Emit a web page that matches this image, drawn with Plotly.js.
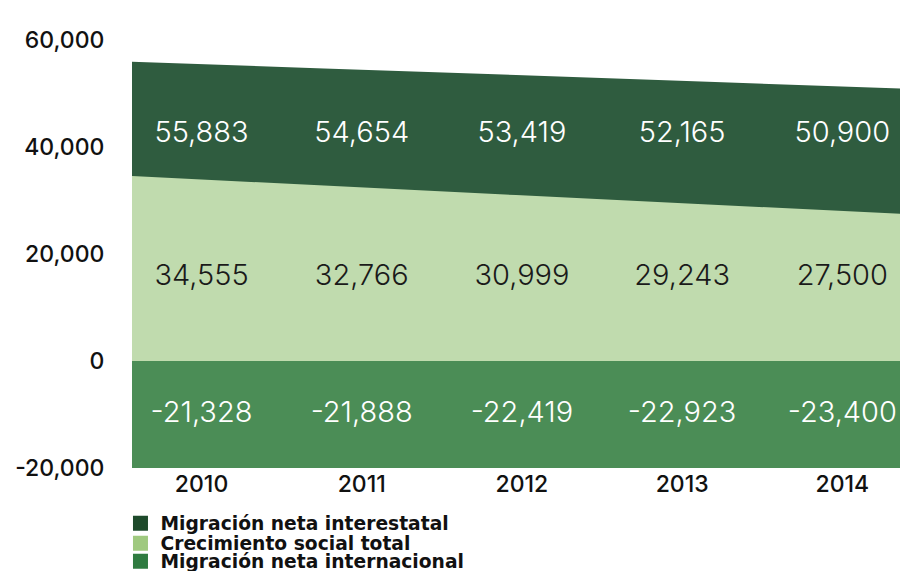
<!DOCTYPE html>
<html><head><meta charset="utf-8">
<script src="https://cdn.plot.ly/plotly-3.0.1.min.js"></script>
<style>html,body{margin:0;padding:0;background:#fff}#chart{width:901px;height:571px}</style>
</head><body><div id="chart"></div>
<script>
// ---- data ----
const years = [2010, 2011, 2012, 2013, 2014];
const interestatal = [55883, 54654, 53419, 52165, 50900];
const crecimientoTotal = [34555, 32766, 30999, 29243, 27500];
const internacional = [-21328, -21888, -22419, -22923, -23400];
const seriesNames = ['Migración neta interestatal', 'Crecimiento social total', 'Migración neta internacional'];
const yTicks = [-20000, 0, 20000, 40000, 60000];

// ---- styling ----
const fmt = v => v.toLocaleString('en-US');
const FONT = 'Inter, "Noto Sans", sans-serif';
const LEGFONT = '"DejaVu Sans", Inter, sans-serif';
const fillDark = '#2f5c3f', fillLight = '#c0dbae', fillMid = '#4b8d56';
const legDark = '#1e4a2b', legLight = '#9fc97f', legMid = '#2f7b40';
const yMin = -20000, yMax = 63700;

// label rows: one row per band, at the band's mean centre
const mean = a => a.reduce((s, v) => s + v, 0) / a.length;
const rowDark = mean(interestatal.map((v, i) => (v + crecimientoTotal[i]) / 2));
const rowLight = mean(crecimientoTotal.map(v => v / 2));
const rowMid = mean(internacional.map(v => Math.max(v, yMin) / 2));

const area = (y, color) => ({type: 'scatter', mode: 'none', x: years, y: y, fill: 'tozeroy',
  fillcolor: color, xaxis: 'x', yaxis: 'y', hoverinfo: 'skip', showlegend: false});
const labels = (row, vals, color) => ({type: 'scatter', mode: 'text', x: years,
  y: years.map(() => row),
  text: vals.map(fmt), textposition: 'middle center', cliponaxis: false,
  textfont: {family: FONT, size: 29, weight: 300, color: color},
  xaxis: 'x2', yaxis: 'y', hoverinfo: 'skip', showlegend: false});
const legendItem = (name, color, lg) => ({type: 'scatter', mode: 'markers', x: [null], y: [null],
  name: name, marker: {symbol: 'square', size: 15, color: color}, legend: lg,
  xaxis: 'x2', yaxis: 'y', hoverinfo: 'skip', showlegend: true});

const traces = [
  area(interestatal, fillDark),
  area(crecimientoTotal, fillLight),
  area(internacional, fillMid),
  labels(rowDark, interestatal, '#ffffff'),
  labels(rowLight, crecimientoTotal, '#1a1a1a'),
  labels(rowMid, internacional, '#ffffff'),
  legendItem(seriesNames[0], legDark, 'legend'),
  legendItem(seriesNames[1], legLight, 'legend2'),
  legendItem(seriesNames[2], legMid, 'legend3')
];

const legFont = {family: LEGFONT, size: 18.7, weight: 'bold', color: '#111'};
const legBase = {xanchor: 'left', yanchor: 'middle', x: -0.015, bgcolor: 'rgba(0,0,0,0)',
  borderwidth: 0, font: legFont};

const layout = {
  width: 901, height: 571,
  margin: {l: 132, r: 1, t: 20, b: 103, autoexpand: false},
  paper_bgcolor: '#ffffff', plot_bgcolor: '#ffffff',
  font: {family: FONT, color: '#111'},
  hovermode: false,
  showlegend: true,
  xaxis: {range: [years[0], years[years.length - 1]], showticklabels: false, showgrid: false,
    zeroline: false, showline: false, ticks: ''},
  xaxis2: {overlaying: 'x', anchor: 'y', side: 'bottom', range: [2009.566, 2014.360],
    tickvals: years, ticktext: years.map(String), showgrid: false, zeroline: false,
    showline: false, ticks: '', tickfont: {family: FONT, size: 23, weight: 500, color: '#111'}},
  yaxis: {range: [yMin, yMax], tickvals: yTicks, ticktext: yTicks.map(fmt), showgrid: false,
    zeroline: false, showline: false, ticks: 'outside', ticklen: 22, tickcolor: 'rgba(0,0,0,0)',
    tickfont: {family: FONT, size: 23, weight: 500, color: '#111'}},
  legend: Object.assign({}, legBase, {y: -0.1239}),
  legend2: Object.assign({}, legBase, {y: -0.1685}),
  legend3: Object.assign({}, legBase, {y: -0.2087})
};

Plotly.newPlot('chart', traces, layout, {displayModeBar: false, staticPlot: true});
</script></body></html>
